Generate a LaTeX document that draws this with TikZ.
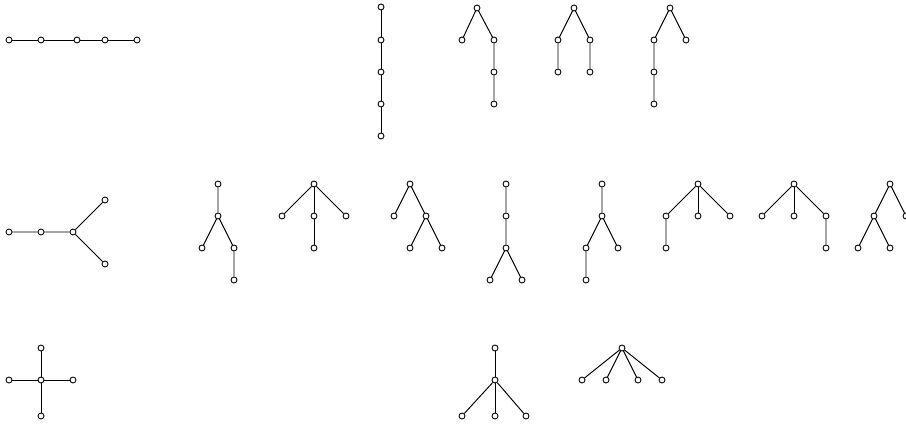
\documentclass[tikz,border=0pt]{standalone}
\usepackage{tikz}

\begin{document}
\begin{tikzpicture}[x=0.02cm, y=-0.02cm, v/.style={draw, circle, fill=white, inner sep=0pt, minimum size=3.4pt, line width=0.5pt}, e/.style={line width=0.55pt, draw=black}]
 \useasboundingbox (0,0) rectangle (906,423);
 \node[v] (p1) at (9,40){}; \node[v] (p2) at (41,40){}; \node[v] (p3) at (77,40){}; \node[v] (p4) at (105,40){}; \node[v] (p5) at (137,40){};
 \draw[e] (p1) -- (p2) -- (p3) -- (p4) -- (p5);
 \node[v] (q1) at (381,7){}; \node[v] (q2) at (381,40){}; \node[v] (q3) at (381,72){}; \node[v] (q4) at (381,104){}; \node[v] (q5) at (381,136){};
 \draw[e] (q1) -- (q2) -- (q3) -- (q4) -- (q5);
 \node[v] (r1) at (477,8){}; \node[v] (r2) at (462,40){}; \node[v] (r3) at (494,40){}; \node[v] (r4) at (494,72){}; \node[v] (r5) at (494,104){};
 \draw[e] (r2) -- (r1) -- (r3) -- (r4) -- (r5);
 \node[v] (s1) at (574,8){}; \node[v] (s2) at (558,40){}; \node[v] (s3) at (590,40){}; \node[v] (s4) at (558,72){}; \node[v] (s5) at (590,72){};
 \draw[e] (s4) -- (s2) -- (s1) -- (s3) -- (s5);
 \node[v] (t1) at (670,8){}; \node[v] (t2) at (654,40){}; \node[v] (t3) at (686,40){}; \node[v] (t4) at (654,72){}; \node[v] (t5) at (654,104){};
 \draw[e] (t3) -- (t1) -- (t2) -- (t4) -- (t5);
 \node[v] (y1) at (9,232){}; \node[v] (y2) at (41,232){}; \node[v] (y3) at (73,232){}; \node[v] (y4) at (105,200){}; \node[v] (y5) at (105,264){};
 \draw[e] (y1) -- (y2) -- (y3) -- (y4); \draw[e] (y3) -- (y5);
 \node[v] (a1) at (218,184){}; \node[v] (a2) at (218,216){}; \node[v] (a3) at (202,248){}; \node[v] (a4) at (234,248){}; \node[v] (a5) at (234,280){};
 \draw[e] (a1) -- (a2) -- (a3); \draw[e] (a2) -- (a4) -- (a5);
 \node[v] (b1) at (314,184){}; \node[v] (b2) at (282,216){}; \node[v] (b3) at (314,216){}; \node[v] (b4) at (346,216){}; \node[v] (b5) at (314,248){};
 \draw[e] (b2) -- (b1) -- (b4); \draw[e] (b1) -- (b3) -- (b5);
 \node[v] (c1) at (410,184){}; \node[v] (c2) at (394,216){}; \node[v] (c3) at (426,216){}; \node[v] (c4) at (410,248){}; \node[v] (c5) at (442,248){};
 \draw[e] (c2) -- (c1) -- (c3) -- (c4); \draw[e] (c3) -- (c5);
 \node[v] (d1) at (506,184){}; \node[v] (d2) at (506,216){}; \node[v] (d3) at (506,248){}; \node[v] (d4) at (490,280){}; \node[v] (d5) at (522,280){};
 \draw[e] (d1) -- (d2) -- (d3) -- (d4); \draw[e] (d3) -- (d5);
 \node[v] (f1) at (602,184){}; \node[v] (f2) at (602,216){}; \node[v] (f3) at (586,248){}; \node[v] (f4) at (618,248){}; \node[v] (f5) at (586,280){};
 \draw[e] (f1) -- (f2) -- (f3) -- (f5); \draw[e] (f2) -- (f4);
 \node[v] (g1) at (698,184){}; \node[v] (g2) at (666,216){}; \node[v] (g3) at (698,216){}; \node[v] (g4) at (730,216){}; \node[v] (g5) at (666,248){};
 \draw[e] (g5) -- (g2) -- (g1) -- (g4); \draw[e] (g1) -- (g3);
 \node[v] (h1) at (794,184){}; \node[v] (h2) at (762,216){}; \node[v] (h3) at (794,216){}; \node[v] (h4) at (826,216){}; \node[v] (h5) at (826,248){};
 \draw[e] (h2) -- (h1) -- (h4) -- (h5); \draw[e] (h1) -- (h3);
 \node[v] (k1) at (890,184){}; \node[v] (k2) at (874,216){}; \node[v] (k3) at (906,216){}; \node[v] (k4) at (858,248){}; \node[v] (k5) at (890,248){};
 \draw[e] (k3) -- (k1) -- (k2) -- (k4); \draw[e] (k2) -- (k5);
 \node[v] (x1) at (41,380){}; \node[v] (x2) at (41,348){}; \node[v] (x3) at (9,380){}; \node[v] (x4) at (73,380){}; \node[v] (x5) at (41,416){};
 \draw[e] (x2) -- (x1) -- (x5); \draw[e] (x3) -- (x1) -- (x4);
 \node[v] (m1) at (495,348){}; \node[v] (m2) at (495,380){}; \node[v] (m3) at (462,416){}; \node[v] (m4) at (495,416){}; \node[v] (m5) at (526,416){};
 \draw[e] (m1) -- (m2) -- (m4); \draw[e] (m3) -- (m2) -- (m5);
 \node[v] (n1) at (622,348){}; \node[v] (n2) at (582,380){}; \node[v] (n3) at (606,380){}; \node[v] (n4) at (638,380){}; \node[v] (n5) at (662,380){};
 \draw[e] (n2) -- (n1) -- (n3); \draw[e] (n4) -- (n1) -- (n5);
\end{tikzpicture}
\end{document}
